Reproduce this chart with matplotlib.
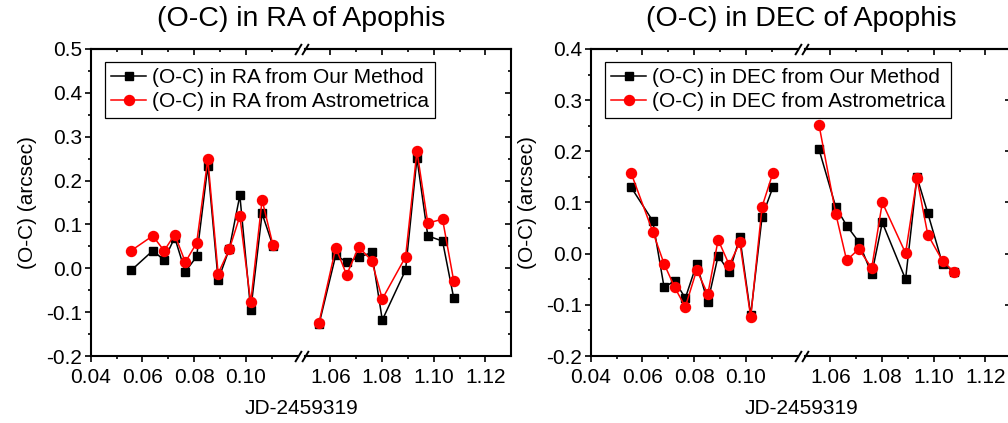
import numpy as np
import matplotlib
matplotlib.use('Agg')
from matplotlib import pyplot as plt
from matplotlib.ticker import FuncFormatter

plt.rcParams['font.family'] = ['Liberation Sans', 'DejaVu Sans']

# observation epochs, JD-2459319 (two nights)
jd_night1 = [0.0556, 0.0640, 0.0684, 0.0725, 0.0766, 0.0810, 0.0853,
             0.0893, 0.0936, 0.0977, 0.1019, 0.1063, 0.1105]
jd_night2 = [1.0556, 1.0621, 1.0663, 1.0710, 1.0760, 1.0801, 1.0891,
             1.0935, 1.0977, 1.1034, 1.1077]

# (O-C) in RA, arcsec
ra_ours_1 = [-0.005, 0.040, 0.019, 0.070, -0.008, 0.027, 0.233,
             -0.027, 0.044, 0.166, -0.096, 0.125, 0.051]
ra_astro_1 = [0.040, 0.074, 0.040, 0.077, 0.014, 0.058, 0.249,
              -0.012, 0.043, 0.119, -0.078, 0.156, 0.053]
ra_ours_2 = [-0.128, 0.030, 0.014, 0.025, 0.036, -0.118, -0.004,
             0.251, 0.074, 0.062, -0.067]
ra_astro_2 = [-0.124, 0.047, -0.015, 0.049, 0.017, -0.070, 0.026,
              0.267, 0.103, 0.112, -0.028]

# (O-C) in DEC, arcsec
dec_ours_1 = [0.130, 0.064, -0.066, -0.053, -0.087, -0.020, -0.095,
              -0.004, -0.036, 0.032, -0.120, 0.072, 0.130]
dec_astro_1 = [0.158, 0.043, -0.020, -0.066, -0.104, -0.032, -0.079,
               0.027, -0.022, 0.022, -0.124, 0.092, 0.158]
dec_ours_2 = [0.204, 0.091, 0.055, 0.023, -0.040, 0.061, -0.050,
              0.150, 0.079, -0.020, -0.035]
dec_astro_2 = [0.252, 0.078, -0.013, 0.009, -0.028, 0.100, 0.001,
               0.147, 0.037, -0.014, -0.035]

W, H = 1008, 423
PX = 2585.0          # pixels per day on the x axis
GAP = 7              # pixels between the two halves of a broken axis
FS = 15


def fmt1(v, pos):
    s = '%.1f' % v
    return '0.0' if s == '-0.0' else s


def fmt2(v, pos):
    return '%.2f' % v


def broken_panel(fig, left_px, ylim, ours, astro, coord, title):
    top, bottom = 49, 356
    w = 0.08 * PX
    b = (H - bottom) / H
    h = (bottom - top) / H
    axL = fig.add_axes([left_px / W, b, w / W, h])
    axR = fig.add_axes([(left_px + w + GAP) / W, b, w / W, h], sharey=axL)

    axL.set_xlim(0.04, 0.12)
    axR.set_xlim(1.05, 1.13)
    axL.set_ylim(*ylim)

    for ax, x, yo, ya in [(axL, jd_night1, ours[0], astro[0]),
                          (axR, jd_night2, ours[1], astro[1])]:
        ax.plot(x, yo, color='black', lw=1.1, marker='s', ms=6,
                label='(O-C) in %s from Our Method' % coord)
        ax.plot(x, ya, color='red', lw=1.1, marker='o', ms=7.2,
                label='(O-C) in %s from Astrometrica' % coord)
        for sp in ax.spines.values():
            sp.set_linewidth(1.5)

    axL.spines['right'].set_visible(False)
    axR.spines['left'].set_visible(False)

    axL.set_xticks([0.04, 0.06, 0.08, 0.10])
    axL.set_xticks([0.05, 0.07, 0.09, 0.11], minor=True)
    axR.set_xticks([1.06, 1.08, 1.10, 1.12])
    axR.set_xticks([1.07, 1.09, 1.11], minor=True)
    for ax in (axL, axR):
        ax.xaxis.set_major_formatter(FuncFormatter(fmt2))
        ax.tick_params(axis='x', which='both', direction='out', top=False,
                       labelsize=FS, pad=4, width=1.2)
        ax.tick_params(axis='x', which='major', length=4.5)
        ax.tick_params(axis='x', which='minor', length=2.5)
        sec = ax.secondary_xaxis('top')
        sec.set_xticks(ax.get_xticks())
        sec.set_xticks(ax.get_xticks(minor=True), minor=True)
        sec.tick_params(axis='x', which='both', direction='in',
                        labeltop=False, width=1.2)
        sec.tick_params(axis='x', which='major', length=4.5)
        sec.tick_params(axis='x', which='minor', length=2.5)
        sec.spines['top'].set_linewidth(1.5)

    step = 0.1
    yt = np.arange(ylim[0], ylim[1] + 1e-9, step)
    axL.set_yticks(yt)
    axL.set_yticks(yt[:-1] + step / 2, minor=True)
    axL.yaxis.set_major_formatter(FuncFormatter(fmt1))
    axL.tick_params(axis='y', which='both', direction='out', left=True,
                    right=False, labelsize=FS, pad=1.5, width=1.2)
    axL.tick_params(axis='y', which='major', length=4.5)
    axL.tick_params(axis='y', which='minor', length=2.5)
    axR.tick_params(axis='y', which='both', direction='in', left=False,
                    right=True, labelleft=False, width=1.2)
    axR.tick_params(axis='y', which='major', length=4.5)
    axR.tick_params(axis='y', which='minor', length=2.5)
    axL.set_ylabel('(O-C) (arcsec)', fontsize=FS, labelpad=7)

    # break marks
    slash = [(-0.6, -1), (0.6, 1)]
    kw = dict(marker=slash, markersize=8, linestyle='none', color='k',
              mec='k', mew=1.4, clip_on=False)
    axL.plot([1, 1], [0, 1], transform=axL.transAxes, **kw)
    axR.plot([0, 0], [0, 1], transform=axR.transAxes, **kw)

    cx = (left_px + w + GAP / 2) / W
    fig.text(cx, 1 - 19 / H, title, ha='center', va='center', fontsize=20.5)
    fig.text(cx, 1 - 408 / H, 'JD-2459319', ha='center', va='center',
             fontsize=FS)

    h1, l1 = axL.get_legend_handles_labels()
    leg = fig.legend(h1, l1, loc='upper left',
                     bbox_to_anchor=((left_px + 14) / W, 1 - 62 / H),
                     fontsize=15, frameon=True, fancybox=False,
                     edgecolor='black', framealpha=1, borderpad=0.3,
                     labelspacing=0.25, handlelength=1.7, handletextpad=0.25,
                     borderaxespad=0)
    leg.get_frame().set_linewidth(0.9)


fig = plt.figure(figsize=(W / 100, H / 100), dpi=100)
broken_panel(fig, 90.7, (-0.2, 0.5), (ra_ours_1, ra_ours_2),
             (ra_astro_1, ra_astro_2), 'RA', '(O-C) in RA of Apophis')
broken_panel(fig, 590.7, (-0.2, 0.4), (dec_ours_1, dec_ours_2),
             (dec_astro_1, dec_astro_2), 'DEC', '(O-C) in DEC of Apophis')
plt.savefig('out.png', dpi=100)
